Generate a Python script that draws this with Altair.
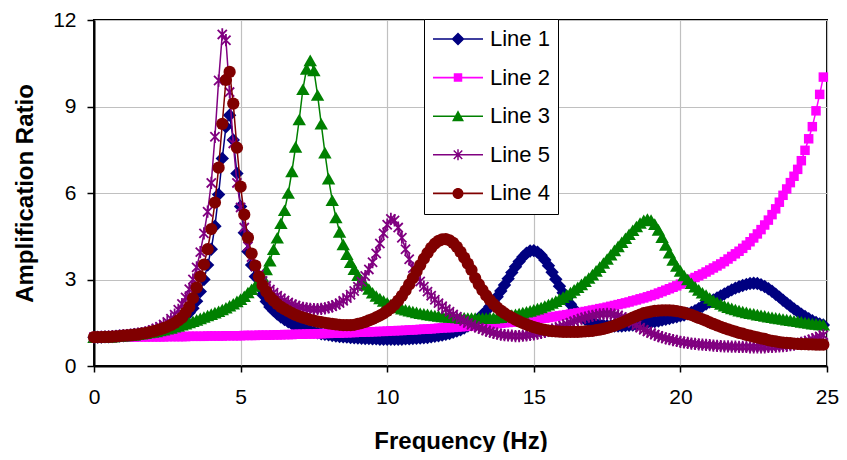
import altair as alt
import pandas as pd

# sampling grid of the curves (Hz)
freq = [i * 0.125 for i in range(200)]

line1 = [
    1.00, 1.00, 1.00, 1.01, 1.01, 1.02, 1.03, 1.04,
    1.05, 1.06, 1.07, 1.09, 1.10, 1.12, 1.14, 1.17,
    1.20, 1.23, 1.27, 1.31, 1.35, 1.40, 1.46, 1.53,
    1.62, 1.72, 1.85, 2.00, 2.25, 2.58, 3.00, 3.50,
    4.05, 4.85, 5.95, 7.20, 8.30, 8.70, 7.84, 6.68,
    5.53, 4.62, 3.97, 3.50, 3.10, 2.76, 2.48, 2.24,
    2.05, 1.92, 1.80, 1.70, 1.61, 1.53, 1.46, 1.40,
    1.35, 1.30, 1.26, 1.22, 1.18, 1.15, 1.12, 1.10,
    1.08, 1.06, 1.04, 1.02, 1.01, 1.00, 0.99, 0.98,
    0.97, 0.96, 0.95, 0.95, 0.94, 0.94, 0.93, 0.93,
    0.93, 0.93, 0.93, 0.93, 0.93, 0.94, 0.94, 0.95,
    0.96, 0.97, 0.98, 0.99, 1.01, 1.03, 1.05, 1.07,
    1.10, 1.13, 1.17, 1.21, 1.26, 1.32, 1.39, 1.47,
    1.56, 1.66, 1.78, 1.91, 2.06, 2.22, 2.40, 2.60,
    2.81, 3.03, 3.24, 3.44, 3.62, 3.78, 3.91, 3.99,
    4.00, 3.95, 3.84, 3.68, 3.48, 3.25, 3.01, 2.77,
    2.54, 2.33, 2.14, 1.97, 1.83, 1.71, 1.62, 1.55,
    1.50, 1.46, 1.43, 1.41, 1.40, 1.39, 1.39, 1.39,
    1.39, 1.40, 1.41, 1.42, 1.44, 1.46, 1.48, 1.50,
    1.52, 1.54, 1.56, 1.59, 1.62, 1.65, 1.68, 1.71,
    1.74, 1.77, 1.81, 1.86, 1.92, 1.99, 2.07, 2.15,
    2.22, 2.29, 2.36, 2.43, 2.50, 2.57, 2.64, 2.70,
    2.75, 2.79, 2.83, 2.86, 2.87, 2.86, 2.82, 2.76,
    2.68, 2.59, 2.49, 2.39, 2.28, 2.18, 2.08, 1.98,
    1.89, 1.80, 1.72, 1.64, 1.57, 1.51, 1.46, 1.42,
]

line2 = [
    1.00, 1.00, 1.00, 1.00, 1.00, 1.00, 1.00, 1.00,
    1.00, 1.00, 1.00, 1.00, 1.01, 1.01, 1.01, 1.01,
    1.01, 1.01, 1.01, 1.01, 1.02, 1.02, 1.02, 1.02,
    1.02, 1.02, 1.03, 1.03, 1.03, 1.03, 1.03, 1.04,
    1.04, 1.04, 1.04, 1.04, 1.05, 1.05, 1.05, 1.05,
    1.05, 1.06, 1.06, 1.06, 1.06, 1.07, 1.07, 1.07,
    1.07, 1.08, 1.08, 1.08, 1.09, 1.09, 1.09, 1.10,
    1.10, 1.10, 1.11, 1.11, 1.11, 1.12, 1.12, 1.13,
    1.13, 1.14, 1.14, 1.14, 1.15, 1.15, 1.16, 1.16,
    1.17, 1.17, 1.18, 1.18, 1.19, 1.19, 1.20, 1.20,
    1.21, 1.22, 1.22, 1.23, 1.23, 1.24, 1.25, 1.25,
    1.26, 1.27, 1.28, 1.28, 1.29, 1.30, 1.31, 1.32,
    1.33, 1.33, 1.34, 1.35, 1.36, 1.37, 1.38, 1.39,
    1.40, 1.41, 1.42, 1.44, 1.45, 1.46, 1.47, 1.48,
    1.50, 1.51, 1.52, 1.54, 1.55, 1.57, 1.58, 1.60,
    1.61, 1.63, 1.65, 1.66, 1.68, 1.70, 1.72, 1.74,
    1.76, 1.78, 1.80, 1.82, 1.84, 1.86, 1.89, 1.91,
    1.94, 1.96, 1.99, 2.01, 2.04, 2.07, 2.10, 2.13,
    2.16, 2.19, 2.22, 2.26, 2.29, 2.33, 2.36, 2.40,
    2.44, 2.48, 2.53, 2.58, 2.63, 2.68, 2.73, 2.78,
    2.84, 2.90, 2.95, 3.01, 3.07, 3.13, 3.19, 3.26,
    3.33, 3.40, 3.47, 3.54, 3.62, 3.71, 3.80, 3.89,
    3.98, 4.08, 4.19, 4.31, 4.44, 4.58, 4.73, 4.89,
    5.06, 5.25, 5.45, 5.68, 5.92, 6.14, 6.36, 6.58,
    6.82, 7.12, 7.48, 7.88, 8.30, 8.85, 9.42, 10.02,
]

line3 = [
    1.00, 1.00, 1.00, 1.01, 1.01, 1.02, 1.03, 1.04,
    1.05, 1.06, 1.07, 1.08, 1.10, 1.12, 1.14, 1.16,
    1.18, 1.20, 1.23, 1.26, 1.29, 1.32, 1.36, 1.39,
    1.43, 1.47, 1.51, 1.55, 1.60, 1.65, 1.70, 1.75,
    1.80, 1.85, 1.90, 1.96, 2.02, 2.09, 2.16, 2.24,
    2.32, 2.42, 2.55, 2.66, 2.78, 2.92, 3.10, 3.35,
    3.65, 4.05, 4.45, 4.95, 5.40, 6.00, 6.75, 7.60,
    8.55, 9.60, 10.30, 10.60, 10.25, 9.40, 8.40, 7.40,
    6.50, 5.75, 5.15, 4.65, 4.22, 3.88, 3.60, 3.36,
    3.15, 2.97, 2.81, 2.67, 2.54, 2.43, 2.34, 2.26,
    2.19, 2.13, 2.08, 2.03, 1.99, 1.95, 1.92, 1.89,
    1.86, 1.83, 1.81, 1.79, 1.77, 1.75, 1.74, 1.72,
    1.71, 1.70, 1.69, 1.68, 1.67, 1.67, 1.66, 1.66,
    1.66, 1.66, 1.66, 1.66, 1.67, 1.67, 1.68, 1.69,
    1.73, 1.75, 1.77, 1.79, 1.82, 1.85, 1.88, 1.91,
    1.95, 1.99, 2.03, 2.08, 2.13, 2.19, 2.25, 2.32,
    2.39, 2.47, 2.55, 2.64, 2.73, 2.83, 2.94, 3.05,
    3.17, 3.30, 3.43, 3.57, 3.71, 3.86, 4.01, 4.15,
    4.29, 4.43, 4.57, 4.71, 4.84, 4.96, 5.05, 5.10,
    5.06, 4.92, 4.72, 4.47, 4.20, 3.93, 3.68, 3.47,
    3.30, 3.14, 3.00, 2.87, 2.75, 2.64, 2.54, 2.46,
    2.36, 2.28, 2.21, 2.15, 2.09, 2.04, 2.00, 1.96,
    1.92, 1.89, 1.86, 1.83, 1.81, 1.78, 1.76, 1.74,
    1.71, 1.69, 1.67, 1.65, 1.63, 1.61, 1.59, 1.57,
    1.55, 1.53, 1.51, 1.49, 1.47, 1.46, 1.44, 1.43,
]

line5 = [
    1.00, 1.00, 1.01, 1.01, 1.02, 1.03, 1.04, 1.05,
    1.06, 1.07, 1.09, 1.10, 1.12, 1.14, 1.17, 1.20,
    1.25, 1.30, 1.36, 1.44, 1.53, 1.64, 1.78, 1.95,
    2.15, 2.38, 2.66, 3.00, 3.42, 3.95, 4.60, 5.35,
    6.35, 7.95, 9.90, 11.50, 11.30, 9.50, 7.72, 6.35,
    5.50, 4.80, 4.15, 3.78, 3.45, 3.17, 2.95, 2.78,
    2.65, 2.54, 2.44, 2.35, 2.27, 2.20, 2.14, 2.09,
    2.05, 2.02, 2.00, 1.98, 1.97, 1.97, 1.98, 2.00,
    2.03, 2.07, 2.12, 2.18, 2.26, 2.36, 2.47, 2.60,
    2.75, 2.92, 3.12, 3.35, 3.60, 3.90, 4.25, 4.60,
    4.90, 5.10, 5.05, 4.80, 4.45, 4.05, 3.70, 3.40,
    3.15, 2.93, 2.75, 2.58, 2.44, 2.30, 2.18, 2.07,
    1.97, 1.88, 1.79, 1.71, 1.63, 1.56, 1.49, 1.43,
    1.38, 1.33, 1.28, 1.23, 1.19, 1.15, 1.12, 1.09,
    1.07, 1.06, 1.05, 1.04, 1.04, 1.05, 1.06, 1.08,
    1.10, 1.12, 1.15, 1.18, 1.22, 1.26, 1.30, 1.35,
    1.40, 1.45, 1.50, 1.55, 1.60, 1.64, 1.68, 1.71,
    1.74, 1.77, 1.79, 1.80, 1.81, 1.80, 1.78, 1.75,
    1.70, 1.64, 1.57, 1.49, 1.41, 1.33, 1.26, 1.20,
    1.14, 1.09, 1.04, 1.00, 0.96, 0.93, 0.90, 0.87,
    0.84, 0.82, 0.80, 0.78, 0.77, 0.75, 0.74, 0.73,
    0.72, 0.71, 0.70, 0.69, 0.68, 0.68, 0.67, 0.67,
    0.66, 0.66, 0.66, 0.65, 0.65, 0.65, 0.65, 0.65,
    0.66, 0.66, 0.67, 0.68, 0.69, 0.70, 0.72, 0.74,
    0.77, 0.80, 0.84, 0.88, 0.92, 0.97, 1.02, 1.07,
]

line4 = [
    1.00, 1.00, 1.00, 1.01, 1.01, 1.02, 1.03, 1.04,
    1.05, 1.06, 1.07, 1.09, 1.10, 1.12, 1.14, 1.17,
    1.20, 1.23, 1.27, 1.31, 1.36, 1.42, 1.49, 1.58,
    1.68, 1.85, 2.05, 2.35, 2.72, 3.10, 3.52, 4.05,
    4.75, 5.67, 6.88, 8.40, 9.92, 10.20, 9.10, 7.57,
    6.22, 5.25, 4.45, 3.90, 3.48, 3.10, 2.80, 2.58,
    2.40, 2.27, 2.15, 2.05, 1.97, 1.90, 1.83, 1.77,
    1.72, 1.68, 1.64, 1.60, 1.57, 1.54, 1.52, 1.50,
    1.48, 1.46, 1.44, 1.43, 1.42, 1.42, 1.42, 1.43,
    1.46, 1.49, 1.53, 1.58, 1.63, 1.69, 1.75, 1.82,
    1.91, 2.01, 2.13, 2.27, 2.43, 2.62, 2.83, 3.05,
    3.28, 3.50, 3.72, 3.92, 4.10, 4.24, 4.34, 4.39,
    4.40, 4.36, 4.27, 4.13, 3.96, 3.76, 3.55, 3.33,
    3.05, 2.83, 2.63, 2.45, 2.29, 2.15, 2.03, 1.92,
    1.83, 1.75, 1.68, 1.61, 1.55, 1.49, 1.44, 1.39,
    1.35, 1.31, 1.28, 1.25, 1.23, 1.21, 1.20, 1.19,
    1.18, 1.18, 1.18, 1.18, 1.18, 1.19, 1.20, 1.21,
    1.22, 1.24, 1.26, 1.29, 1.32, 1.36, 1.40, 1.45,
    1.50, 1.56, 1.62, 1.68, 1.73, 1.78, 1.83, 1.86,
    1.89, 1.91, 1.92, 1.93, 1.93, 1.93, 1.92, 1.90,
    1.88, 1.85, 1.81, 1.77, 1.72, 1.67, 1.62, 1.57,
    1.51, 1.46, 1.41, 1.36, 1.31, 1.27, 1.23, 1.19,
    1.15, 1.12, 1.08, 1.05, 1.02, 0.99, 0.96, 0.94,
    0.90, 0.87, 0.85, 0.83, 0.81, 0.80, 0.79, 0.78,
    0.77, 0.76, 0.76, 0.75, 0.75, 0.74, 0.74, 0.74,
]

series_names = ["Line 1", "Line 2", "Line 3", "Line 5", "Line 4"]
series_values = [line1, line2, line3, line5, line4]
series_colors = ["#000080", "#FF00FF", "#008000", "#800080", "#800000"]
x_ticks = [0, 5, 10, 15, 20, 25]
y_ticks = [0, 3, 6, 9, 12]

records = []
for name, vals in zip(series_names, series_values):
    for f, v in zip(freq, vals):
        records.append({"freq": f, "amp": v, "series": name})
df = pd.DataFrame(records)

FONT = "Liberation Sans"

STAR = "M-0.75,-0.75L0.75,0.75M-0.75,0.75L0.75,-0.75M0,-1L0,1"
marker_styles = {
    "Line 1": dict(shape="diamond", size=180, filled=True),
    "Line 2": dict(shape="square", size=90, filled=True),
    "Line 3": dict(shape="triangle-up", size=180, filled=True),
    "Line 5": dict(shape=STAR, size=150, filled=False, strokeWidth=1.8),
    "Line 4": dict(shape="circle", size=150, filled=True),
}

# legend symbols: a line segment with the marker in its middle
LN = "M-1,-0.032H1V0.032H-1Z"
legend_paths = [
    LN + " M0,-0.26L0.26,0L0,0.26L-0.26,0Z",
    LN + " M-0.17,-0.17H0.17V0.17H-0.17Z",
    LN + " M0,-0.24L0.24,0.2L-0.24,0.2Z",
    LN + " M-0.149,-0.191L0.191,0.149L0.149,0.191L-0.191,-0.149Z"
         " M-0.191,0.149L0.149,-0.191L0.191,-0.149L-0.149,0.191Z"
         " M-0.03,-0.22H0.03V0.22H-0.03Z",
    LN + " M0.22,0A0.22,0.22,0,1,1,-0.22,0A0.22,0.22,0,1,1,0.22,0Z",
]

x_enc = alt.X(
    "freq:Q",
    scale=alt.Scale(domain=[0, 25], nice=False, zero=False),
    axis=alt.Axis(values=x_ticks, title="Frequency (Hz)", tickSize=6,
                  labelPadding=14, titlePadding=22, labelFlush=False, format="d"),
)
y_enc = alt.Y(
    "amp:Q",
    scale=alt.Scale(domain=[0, 12], nice=False),
    axis=alt.Axis(values=y_ticks, title="Amplification Ratio", tickSize=7,
                  labelPadding=11, titlePadding=15, labelFlush=False, format="d"),
)

base = alt.Chart(df)
layers = []
for name, col in zip(series_names, series_colors):
    sub = base.transform_filter(alt.datum.series == name)
    layers.append(sub.mark_line(color=col, strokeWidth=1.5).encode(x=x_enc, y=y_enc))
    layers.append(sub.mark_point(color=col, opacity=1, **marker_styles[name]).encode(x=x_enc, y=y_enc))

legend_def = alt.Legend(
    title=None, orient="none", legendX=330, legendY=-1,
    symbolSize=2500, symbolStrokeWidth=0, clipHeight=24, rowPadding=14.6,
    padding=8, symbolOffset=1, labelOffset=7,
    labelFont=FONT, labelFontSize=22, labelColor="black", labelLimit=300,
    strokeColor="black", fillColor="white",
)
legend_layer = base.transform_filter("false").mark_point(
    filled=True, opacity=1, strokeWidth=0
).encode(
    x=x_enc, y=y_enc,
    color=alt.Color("series:N", scale=alt.Scale(domain=series_names, range=series_colors), legend=legend_def),
    shape=alt.Shape("series:N", scale=alt.Scale(domain=series_names, range=legend_paths), legend=legend_def),
)

chart = alt.layer(*layers, legend_layer).properties(
    width=733, height=346,
    autosize=alt.AutoSizeParams(type="none"),
    padding={"left": 86, "top": 12, "right": 12, "bottom": 86},
).configure_view(
    stroke="black", strokeWidth=2
).configure_axis(
    grid=True, gridColor="#c0c0c0", gridWidth=1.2,
    domainColor="black", domainWidth=2,
    tickColor="black", tickWidth=1.5,
    labelFont=FONT, labelFontSize=21, labelColor="black",
    titleFont=FONT, titleFontSize=24, titleFontWeight="bold", titleColor="black",
)

chart.save("out.html", embed_options={"renderer": "svg", "actions": False})
